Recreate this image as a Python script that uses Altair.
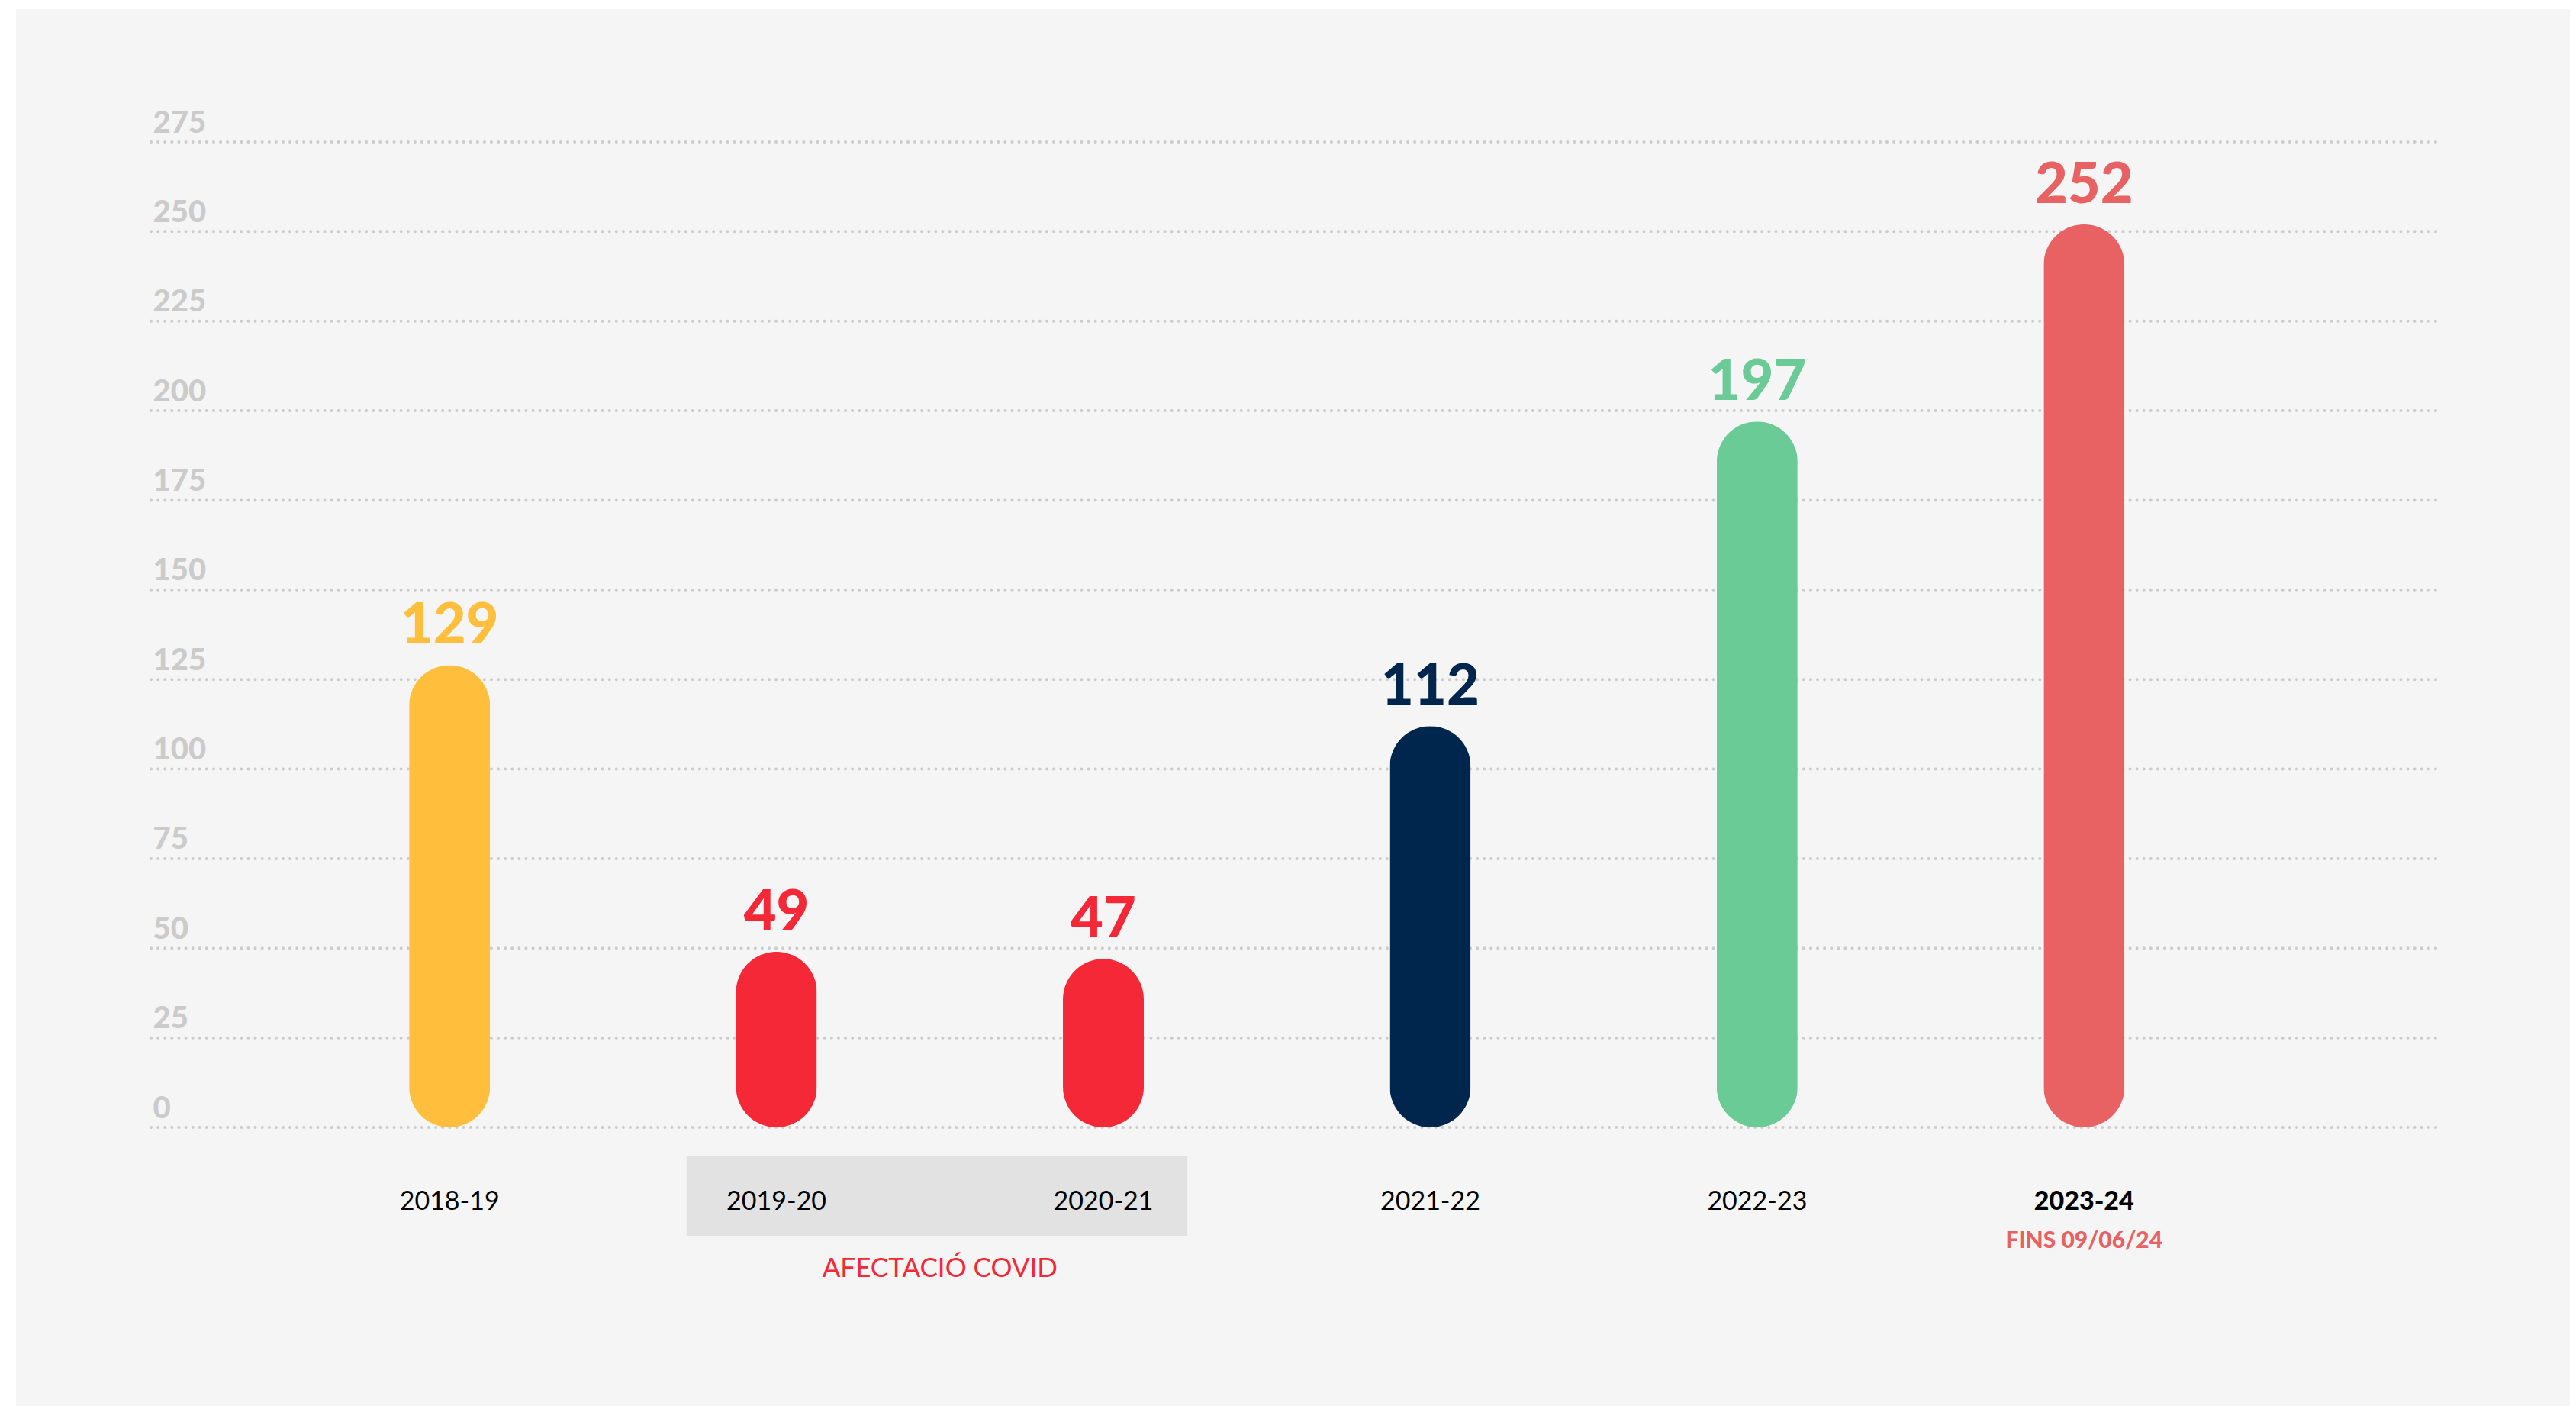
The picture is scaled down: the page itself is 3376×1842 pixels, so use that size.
import altair as alt
import pandas as pd

# ---- data ----
seasons = ["2018-19", "2019-20", "2020-21", "2021-22", "2022-23", "2023-24"]
values = [129, 49, 47, 112, 197, 252]
bar_colors = ["#FFBE3C", "#F42837", "#F42837", "#00264D", "#6BCB96", "#E86163"]
y_ticks = [0, 25, 50, 75, 100, 125, 150, 175, 200, 225, 250, 275]
note_season = ["2023-24"]
note_text = ["FINS 09/06/24"]
covid_from = ["2019-20"]
covid_to = ["2020-21"]
covid_text = ["AFECTACIÓ COVID"]

W, H = 2999, 1291
FONT = "Lato"

bars_df = pd.DataFrame({"season": seasons, "value": values})
grid_df = pd.DataFrame({"tick": y_ticks})
note_df = pd.DataFrame({"season": note_season, "note": note_text})
covid_df = pd.DataFrame({"season": covid_from, "season_end": covid_to, "label": covid_text})
panel_df = pd.DataFrame({"p": [0]})

xscale = alt.Scale(domain=seasons, paddingInner=0, paddingOuter=0.5, align=0.413)
yscale = alt.Scale(domain=[0, 275], nice=False, zero=True)
cscale = alt.Scale(domain=seasons, range=bar_colors)

x_axis = alt.Axis(
    title=None, domain=False, ticks=False, tickSize=0, grid=False,
    labelPadding=107, labelBaseline="alphabetic", labelAlign="center", labelAngle=0,
    labelFont=FONT, labelFontSize=34, labelColor="#000000",
    labelFontWeight=alt.condition("datum.value == '2023-24'", alt.value(900), alt.value(400)),
    zindex=1,
)
y_axis = alt.Axis(
    title=None, domain=False, ticks=False, tickSize=0, grid=False,
    values=y_ticks, labelAlign="left", labelPadding=-2, labelBaseline="alphabetic",
    labelOffset=-13, labelFont=FONT, labelFontSize=40, labelFontWeight=900,
    labelColor="#cbcbcb", labelFlush=False, zindex=1,
)

panel = alt.Chart(panel_df).mark_rect(color="#f5f5f5").encode(
    x=alt.value(-177), x2=alt.value(3170), y=alt.value(-174), y2=alt.value(1656)
)

grid = alt.Chart(grid_df).mark_rule(
    color="#cccccc", strokeWidth=4, strokeDash=[0.1, 9], strokeCap="round"
).encode(
    y=alt.Y("tick:Q", scale=yscale, axis=y_axis),
    x=alt.value(0), x2=alt.value(W),
)

covid_box = alt.Chart(covid_df).mark_rect(color="#e2e2e2").encode(
    x=alt.X("season:N", scale=xscale, bandPosition=0.225),
    x2=alt.X2("season_end", bandPosition=0.757),
    y=alt.value(1328), y2=alt.value(1433),
)

bars = alt.Chart(bars_df).mark_bar(size=106, cornerRadius=53).encode(
    x=alt.X("season:N", scale=xscale, axis=x_axis, sort=seasons),
    y=alt.Y("value:Q", scale=yscale),
    color=alt.Color("season:N", scale=cscale, legend=None),
)

labels = alt.Chart(bars_df).mark_text(
    font=FONT, fontSize=74, fontWeight=900, baseline="alphabetic", dy=-28
).encode(
    x=alt.X("season:N", scale=xscale),
    y=alt.Y("value:Q", scale=yscale),
    text=alt.Text("value:Q"),
    color=alt.Color("season:N", scale=cscale, legend=None),
)

note = alt.Chart(note_df).mark_text(
    font=FONT, fontSize=30, fontWeight=900, color="#E86163", baseline="alphabetic"
).encode(
    x=alt.X("season:N", scale=xscale),
    y=alt.value(1449),
    text="note:N",
)

covid_label = alt.Chart(covid_df).mark_text(
    font=FONT, fontSize=35, fontWeight=400, color="#F42837", baseline="alphabetic"
).encode(
    x=alt.X("season:N", scale=xscale, bandPosition=1),
    y=alt.value(1487),
    text="label:N",
)

chart = alt.layer(panel, grid, covid_box, bars, labels, note, covid_label).properties(
    width=W, height=H,
    autosize=alt.AutoSizeParams(type="none"),
    padding={"left": 190, "top": 178, "right": 171, "bottom": 365},
    background="#ffffff",
).configure_view(stroke=None)

chart.save("out.html", embed_options={"renderer": "svg", "actions": False})
